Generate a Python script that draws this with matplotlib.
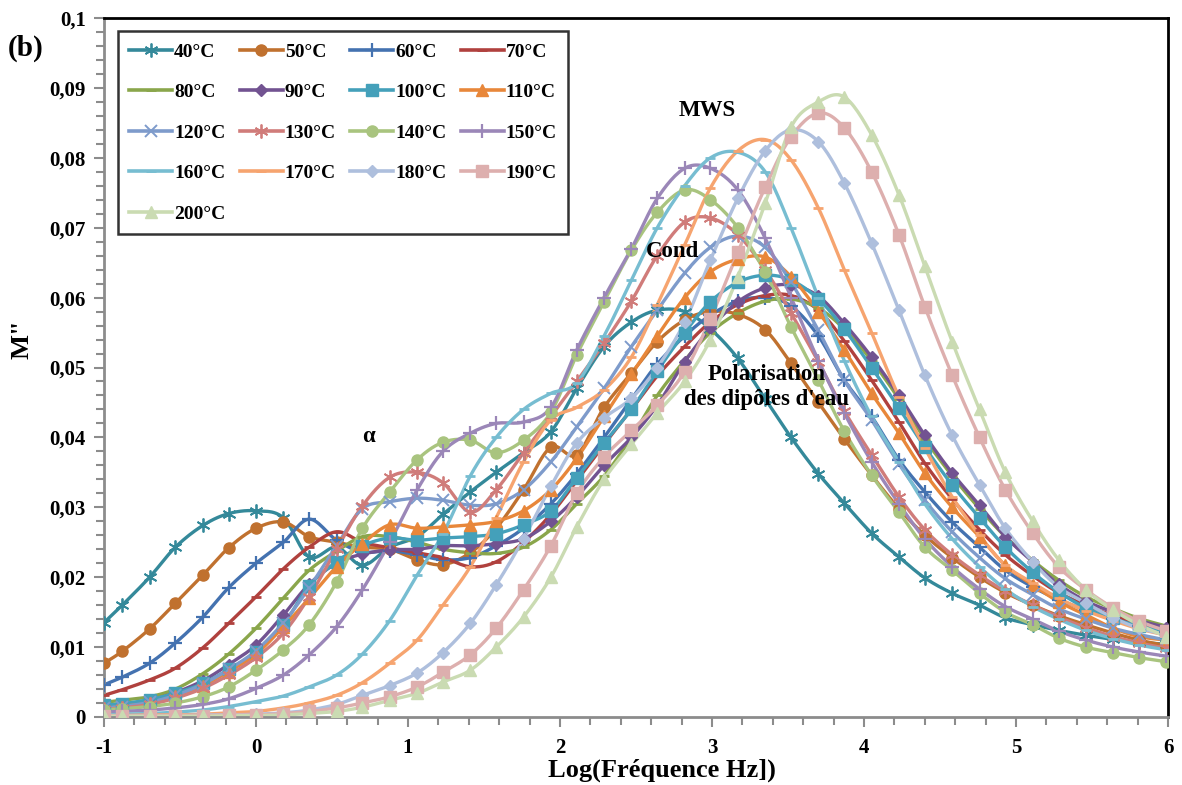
import numpy as np
import matplotlib
matplotlib.use("Agg")
import matplotlib.pyplot as plt
from matplotlib.lines import Line2D
from matplotlib.ticker import MultipleLocator, FuncFormatter

plt.rcParams['font.family'] = ['Liberation Serif', 'DejaVu Serif']
plt.rcParams['font.weight'] = 'bold'
plt.rcParams['axes.unicode_minus'] = False

# log10 of measurement frequency (Hz)
log_f = [-1.00, -0.88, -0.70, -0.53, -0.35, -0.18, 0.00, 0.18, 0.35, 0.53,
         0.70, 0.88, 1.06, 1.23, 1.41, 1.58, 1.76, 1.94, 2.11, 2.29,
         2.47, 2.64, 2.82, 2.99, 3.17, 3.35, 3.52, 3.70, 3.87, 4.05,
         4.23, 4.40, 4.58, 4.76, 4.93, 5.11, 5.28, 5.46, 5.64, 5.81, 5.99]

temperatures = ["40°C", "50°C", "60°C", "70°C", "80°C", "90°C", "100°C", "110°C",
                "120°C", "130°C", "140°C", "150°C", "160°C", "170°C", "180°C",
                "190°C", "200°C"]

m40 = [0.0135, 0.0160, 0.0200, 0.0243, 0.0274, 0.0291, 0.0295, 0.0285, 0.0229, 0.0243,
       0.0217, 0.0243, 0.0258, 0.0290, 0.0322, 0.0350, 0.0378, 0.0408, 0.0470, 0.0530,
       0.0565, 0.0582, 0.0580, 0.0555, 0.0513, 0.0455, 0.0400, 0.0348, 0.0306, 0.0263,
       0.0229, 0.0199, 0.0177, 0.0160, 0.0142, 0.0132, 0.0124, 0.0117, 0.0111, 0.0107, 0.0104]
m50 = [0.0077, 0.0094, 0.0126, 0.0163, 0.0203, 0.0242, 0.0270, 0.0279, 0.0258, 0.0250,
       0.0243, 0.0240, 0.0225, 0.0218, 0.0235, 0.0270, 0.0325, 0.0386, 0.0375, 0.0443,
       0.0492, 0.0537, 0.0568, 0.0580, 0.0576, 0.0554, 0.0506, 0.0450, 0.0398, 0.0346,
       0.0298, 0.0260, 0.0228, 0.0200, 0.0178, 0.0160, 0.0145, 0.0132, 0.0120, 0.0110, 0.0102]
m60 = [0.0046, 0.0057, 0.0077, 0.0106, 0.0143, 0.0185, 0.0220, 0.0250, 0.0283, 0.0253,
       0.0236, 0.0238, 0.0232, 0.0225, 0.0228, 0.0245, 0.0270, 0.0305, 0.0348, 0.0400,
       0.0455, 0.0505, 0.0545, 0.0575, 0.0595, 0.0600, 0.0588, 0.0545, 0.0482, 0.0430,
       0.0368, 0.0322, 0.0279, 0.0243, 0.0210, 0.0186, 0.0168, 0.0153, 0.0140, 0.0130, 0.0121]
m70 = [0.0031, 0.0039, 0.0053, 0.0070, 0.0099, 0.0134, 0.0172, 0.0212, 0.0243, 0.0265,
       0.0250, 0.0242, 0.0235, 0.0228, 0.0215, 0.0222, 0.0250, 0.0290, 0.0338, 0.0390,
       0.0440, 0.0488, 0.0530, 0.0565, 0.0590, 0.0603, 0.0603, 0.0582, 0.0538, 0.0482,
       0.0422, 0.0363, 0.0312, 0.0268, 0.0232, 0.0202, 0.0178, 0.0160, 0.0145, 0.0133, 0.0123]
m80 = [0.0021, 0.0024, 0.0029, 0.0040, 0.0062, 0.0090, 0.0127, 0.0170, 0.0210, 0.0237,
       0.0258, 0.0258, 0.0250, 0.0240, 0.0235, 0.0234, 0.0243, 0.0268, 0.0305, 0.0345,
       0.0400, 0.0460, 0.0510, 0.0550, 0.0578, 0.0595, 0.0598, 0.0585, 0.0555, 0.0510,
       0.0455, 0.0398, 0.0345, 0.0298, 0.0258, 0.0224, 0.0196, 0.0172, 0.0155, 0.0141, 0.0130]
m90 = [0.0015, 0.0018, 0.0024, 0.0035, 0.0052, 0.0075, 0.0103, 0.0146, 0.0190, 0.0220,
       0.0233, 0.0239, 0.0240, 0.0245, 0.0245, 0.0248, 0.0255, 0.0280, 0.0315, 0.0360,
       0.0400, 0.0446, 0.0508, 0.0556, 0.0594, 0.0614, 0.0618, 0.0602, 0.0563, 0.0515,
       0.0460, 0.0403, 0.0349, 0.0303, 0.0258, 0.0222, 0.0190, 0.0166, 0.0150, 0.0138, 0.0128]
m100 = [0.0017, 0.0019, 0.0025, 0.0034, 0.0048, 0.0068, 0.0093, 0.0132, 0.0188, 0.0222,
        0.0245, 0.0256, 0.0253, 0.0256, 0.0258, 0.0262, 0.0275, 0.0295, 0.0342, 0.0392,
        0.0440, 0.0495, 0.0550, 0.0594, 0.0622, 0.0632, 0.0625, 0.0598, 0.0555, 0.0500,
        0.0442, 0.0386, 0.0332, 0.0285, 0.0243, 0.0207, 0.0179, 0.0156, 0.0141, 0.0130, 0.0122]
m110 = [0.0012, 0.0015, 0.0020, 0.0030, 0.0045, 0.0065, 0.0090, 0.0129, 0.0170, 0.0215,
        0.0248, 0.0275, 0.0270, 0.0272, 0.0275, 0.0280, 0.0295, 0.0325, 0.0370, 0.0430,
        0.0490, 0.0545, 0.0600, 0.0637, 0.0655, 0.0658, 0.0630, 0.0580, 0.0525, 0.0463,
        0.0406, 0.0349, 0.0300, 0.0258, 0.0217, 0.0189, 0.0165, 0.0146, 0.0127, 0.0115, 0.0110]
m120 = [0.0013, 0.0015, 0.0021, 0.0031, 0.0047, 0.0068, 0.0095, 0.0135, 0.0185, 0.0245,
        0.0298, 0.0308, 0.0313, 0.0310, 0.0303, 0.0305, 0.0325, 0.0365, 0.0415, 0.0470,
        0.0530, 0.0582, 0.0635, 0.0672, 0.0688, 0.0672, 0.0622, 0.0553, 0.0482, 0.0425,
        0.0362, 0.0310, 0.0265, 0.0228, 0.0198, 0.0175, 0.0155, 0.0140, 0.0127, 0.0118, 0.0110]
m130 = [0.0011, 0.0013, 0.0018, 0.0027, 0.0041, 0.0060, 0.0085, 0.0120, 0.0172, 0.0240,
        0.0302, 0.0343, 0.0350, 0.0335, 0.0293, 0.0325, 0.0378, 0.0430, 0.0480, 0.0535,
        0.0595, 0.0660, 0.0708, 0.0714, 0.0690, 0.0640, 0.0578, 0.0508, 0.0438, 0.0375,
        0.0315, 0.0268, 0.0232, 0.0203, 0.0180, 0.0160, 0.0143, 0.0128, 0.0115, 0.0106, 0.0098]
m140 = [0.0010, 0.0012, 0.0015, 0.0020, 0.0029, 0.0043, 0.0067, 0.0096, 0.0132, 0.0193,
        0.0270, 0.0322, 0.0368, 0.0393, 0.0396, 0.0378, 0.0396, 0.0436, 0.0518, 0.0594,
        0.0668, 0.0722, 0.0754, 0.0740, 0.0700, 0.0636, 0.0558, 0.0482, 0.0409, 0.0346,
        0.0293, 0.0243, 0.0210, 0.0177, 0.0150, 0.0132, 0.0113, 0.0100, 0.0092, 0.0085, 0.0079]
m150 = [0.0007, 0.0008, 0.0010, 0.0013, 0.0018, 0.0026, 0.0041, 0.0060, 0.0089, 0.0129,
        0.0182, 0.0250, 0.0325, 0.0380, 0.0406, 0.0420, 0.0422, 0.0443, 0.0525, 0.0600,
        0.0670, 0.0742, 0.0785, 0.0785, 0.0754, 0.0685, 0.0600, 0.0510, 0.0435, 0.0365,
        0.0305, 0.0255, 0.0215, 0.0183, 0.0158, 0.0140, 0.0123, 0.0110, 0.0100, 0.0093, 0.0087]
m160 = [0.0003, 0.0004, 0.0005, 0.0007, 0.0010, 0.0015, 0.0022, 0.0030, 0.0043, 0.0060,
        0.0090, 0.0138, 0.0203, 0.0262, 0.0345, 0.0400, 0.0440, 0.0463, 0.0478, 0.0545,
        0.0625, 0.0700, 0.0760, 0.0800, 0.0808, 0.0780, 0.0700, 0.0600, 0.0510, 0.0430,
        0.0365, 0.0305, 0.0255, 0.0215, 0.0183, 0.0158, 0.0140, 0.0124, 0.0112, 0.0103, 0.0096]
m170 = [0.0002, 0.0002, 0.0003, 0.0003, 0.0004, 0.0006, 0.0008, 0.0013, 0.0020, 0.0031,
        0.0049, 0.0077, 0.0110, 0.0160, 0.0215, 0.0285, 0.0365, 0.0425, 0.0443, 0.0468,
        0.0515, 0.0590, 0.0675, 0.0757, 0.0810, 0.0826, 0.0797, 0.0728, 0.0640, 0.0550,
        0.0458, 0.0385, 0.0315, 0.0260, 0.0217, 0.0192, 0.0170, 0.0152, 0.0138, 0.0126, 0.0117]
m180 = [0.0002, 0.0002, 0.0002, 0.0002, 0.0003, 0.0003, 0.0004, 0.0006, 0.0010, 0.0018,
        0.0031, 0.0045, 0.0063, 0.0092, 0.0134, 0.0189, 0.0255, 0.0330, 0.0392, 0.0428,
        0.0456, 0.0500, 0.0565, 0.0654, 0.0742, 0.0810, 0.0840, 0.0823, 0.0764, 0.0678,
        0.0582, 0.0489, 0.0403, 0.0332, 0.0270, 0.0222, 0.0186, 0.0163, 0.0142, 0.0127, 0.0118]
m190 = [0.0002, 0.0002, 0.0002, 0.0002, 0.0002, 0.0003, 0.0003, 0.0005, 0.0008, 0.0013,
        0.0020, 0.0029, 0.0043, 0.0064, 0.0089, 0.0127, 0.0182, 0.0245, 0.0320, 0.0372,
        0.0410, 0.0446, 0.0494, 0.0570, 0.0665, 0.0758, 0.0830, 0.0864, 0.0843, 0.0780,
        0.0690, 0.0587, 0.0489, 0.0400, 0.0325, 0.0263, 0.0215, 0.0182, 0.0156, 0.0137, 0.0123]
m200 = [0.0001, 0.0001, 0.0001, 0.0001, 0.0001, 0.0002, 0.0002, 0.0003, 0.0005, 0.0008,
        0.0014, 0.0024, 0.0034, 0.0050, 0.0067, 0.0100, 0.0143, 0.0200, 0.0272, 0.0340,
        0.0390, 0.0435, 0.0480, 0.0540, 0.0630, 0.0735, 0.0844, 0.0880, 0.0887, 0.0833,
        0.0747, 0.0645, 0.0537, 0.0440, 0.0350, 0.0280, 0.0225, 0.0182, 0.0153, 0.0132, 0.0115]

series = [m40, m50, m60, m70, m80, m90, m100, m110, m120, m130,
          m140, m150, m160, m170, m180, m190, m200]

colors = ['#34899A', '#C0712F', '#4472B0', '#B0413E', '#8AA64B', '#725391',
          '#44A0BA', '#E8873A', '#7E9BCB', '#D07C7A', '#A9C47F', '#9B87B8',
          '#77BDD1', '#F6A46F', '#AEBFDD', '#DDAFAE', '#CADBB2']

ASTER = (6, 2, 0)
# (marker, size, edge width)
markers = [(ASTER, 10, 1.3), ('o', 8, 1), ('+', 10, 1.6), ('_', 7, 2.0),
           ('_', 7, 2.0), ('D', 6, 1), ('s', 8, 1), ('^', 8, 1),
           ('x', 8, 1.4), (ASTER, 10, 1.3), ('o', 8, 1), ('+', 10, 1.6),
           ('_', 7, 2.0), ('_', 7, 2.0), ('D', 6, 1), ('s', 8, 1), ('^', 8, 1)]


def excel_smooth(x, y, n=14):
    """Bezier smoothing with Catmull-Rom control points."""
    x = np.asarray(x, float)
    y = np.asarray(y, float)
    px = np.concatenate([[x[0]], x, [x[-1]]])
    py = np.concatenate([[y[0]], y, [y[-1]]])
    t = np.linspace(0, 1, n, endpoint=False)[:, None]
    out_x, out_y = [], []
    for i in range(len(x) - 1):
        P = np.array([[px[i], py[i]], [px[i + 1], py[i + 1]],
                      [px[i + 2], py[i + 2]], [px[i + 3], py[i + 3]]])
        b0 = P[1]
        b1 = P[1] + (P[2] - P[0]) / 6
        b2 = P[2] - (P[3] - P[1]) / 6
        b3 = P[2]
        pts = ((1 - t) ** 3) * b0 + 3 * ((1 - t) ** 2) * t * b1 \
            + 3 * (1 - t) * t ** 2 * b2 + t ** 3 * b3
        out_x.append(pts[:, 0])
        out_y.append(pts[:, 1])
    out_x.append([x[-1]])
    out_y.append([y[-1]])
    return np.concatenate(out_x), np.concatenate(out_y)


W, H = 1182, 785
fig = plt.figure(figsize=(W / 100, H / 100), dpi=100)
ax = fig.add_axes([104 / W, (H - 717) / H, 1064 / W, 699 / H])

handles = []
for vals, col, (mk, ms, mew), lab in zip(series, colors, markers, temperatures):
    sx, sy = excel_smooth(log_f, vals)
    ax.plot(sx, sy, color=col, lw=2.4, solid_capstyle='round', zorder=2)
    ax.plot(log_f, vals, linestyle='none', marker=mk, markersize=ms,
            markeredgewidth=mew, color=col, markerfacecolor=col,
            markeredgecolor=col, zorder=3)
    handles.append(Line2D([], [], color=col, lw=2.6, marker=mk, markersize=ms,
                          markeredgewidth=mew, markerfacecolor=col,
                          markeredgecolor=col, label=lab))

ax.set_xlim(-1, 6)
ax.set_ylim(0, 0.1)

ax.xaxis.set_major_locator(MultipleLocator(1))
ax.xaxis.set_minor_locator(MultipleLocator(0.2))
ax.yaxis.set_major_locator(MultipleLocator(0.01))
ax.yaxis.set_minor_locator(MultipleLocator(0.002))


def comma_fmt(v, pos):
    if abs(v) < 1e-9:
        return "0"
    s = f"{v:.2f}".rstrip('0').rstrip('.')
    return s.replace('.', ',')


ax.yaxis.set_major_formatter(FuncFormatter(comma_fmt))
ax.xaxis.set_major_formatter(FuncFormatter(lambda v, p: f"{int(round(v))}"))

gray = '#8C8C8C'
for side in ('left', 'bottom'):
    ax.spines[side].set_color(gray)
    ax.spines[side].set_linewidth(2)
for side in ('top', 'right'):
    ax.spines[side].set_color('black')
    ax.spines[side].set_linewidth(2)

ax.tick_params(axis='both', which='both', direction='out', color=gray, width=1.5)
ax.tick_params(axis='both', which='major', length=7)
ax.tick_params(axis='both', which='minor', length=6)
ax.tick_params(axis='y', which='major', labelsize=15, pad=6)
ax.tick_params(axis='x', which='major', labelsize=15, pad=8)
for lbl in ax.get_xticklabels() + ax.get_yticklabels():
    lbl.set_fontweight('bold')

ax.set_xlabel("Log(Fréquence Hz])", fontsize=19, fontweight='bold')
ax.xaxis.set_label_coords(0.524, -0.060)
ax.set_ylabel('M"', fontsize=19, fontweight='bold')
ax.yaxis.set_label_coords(-0.066, 0.54)

txt = dict(fontsize=16.5, fontweight='bold', ha='center', va='center', zorder=5)
ax.text(2.97, 0.0868, "MWS", **txt)
ax.text(2.74, 0.0666, "Cond", **txt)
ax.text(0.74, 0.0402, "α", **txt)
ax.text(3.36, 0.0472, "Polarisation\ndes dipôles d'eau", linespacing=1.2, **txt)

fig.text(8 / W, 1 - 48 / H, "(b)", fontsize=21, fontweight='bold', va='center', ha='left')

# row-wise legend layout: reorder so that each row holds four consecutive temperatures
ncol = 4
order = [i for c in range(ncol) for i in range(c, len(handles), ncol)]
leg = ax.legend(handles=[handles[i] for i in order], ncol=ncol, loc='upper left',
                bbox_to_anchor=(0.013, 0.981), frameon=True, fancybox=False,
                prop={'size': 14, 'weight': 'bold'}, handlelength=2.2,
                handletextpad=0.1, columnspacing=0.75, labelspacing=1.18,
                borderpad=0.6, borderaxespad=0, numpoints=1)
leg.get_frame().set_edgecolor('black')
leg.get_frame().set_linewidth(1.8)

fig.savefig("out.png", dpi=100)
